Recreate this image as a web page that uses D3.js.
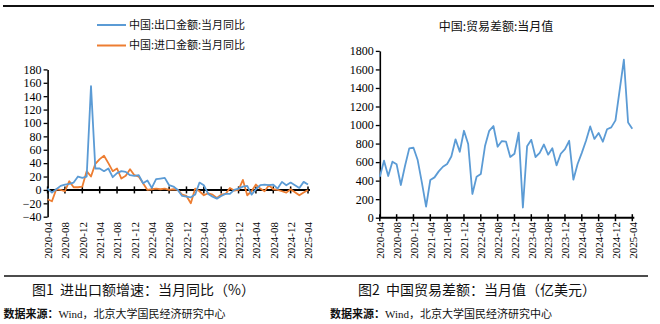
<!DOCTYPE html>
<html><head><meta charset="utf-8">
<script src="https://cdn.jsdelivr.net/npm/d3@7"></script>
<style>
html,body{margin:0;padding:0;background:#fff;}
svg{display:block;}
</style>
</head><body>
<svg id="c" width="660" height="324"></svg>
<script>
// ---------- data ----------
const months = d3.timeMonth.range(new Date(2020,3,1), new Date(2025,4,1)).map(d3.timeFormat("%Y-%m"));
const tickMonths = ["2020-04","2020-08","2020-12","2021-04","2021-08","2021-12","2022-04","2022-08","2022-12","2023-04","2023-08","2023-12","2024-04","2024-08","2024-12","2025-04"];
const exportYoY = [2,-4,1,6,8,9,11,20,18,
  20,155,32,32,28,32,19,25,28,27,22,21,
  22,10,14,3,16,17,18,7,5,0,-9,-10,
  -11,-7,11,7,-6,-10,-13,-9,-6,-6,0,2,
  5,6,-7,1,7,8,7,8,2,12,7,11,
  null,3,12,8];
const importYoY = [-14,-17,1,0,-2,13,4,4,5,
  28,20,39,46,51,40,28,32,17,21,31,22,
  20,10,0,1,2,1,2,0,1,0,-7,-9,
  -20,2,-2,-8,-5,-7,-12,-7,-6,3,-1,0,
  15,-8,-2,8,2,-2,7,1,0,-2,-4,1,
  null,-8,-4,0];
const tradeBalance = [442,615,450,604,576,353,560,748,755,
  622,378,119,407,435,500,550,580,660,846,712,938,
  795,256,442,471,773,938,989,766,827,820,655,690,
  917,110,770,840,655,700,790,680,750,565,690,740,
  830,410,580,700,830,985,850,915,820,955,975,1050,
  null,1705,1027,961];
const leftTicks = [-40,-20,0,20,40,60,80,100,120,140,160,180];
const rightTicks = [0,200,400,600,800,1000,1200,1400,1600,1800];
const seriesNames = ["中国:出口金额:当月同比","中国:进口金额:当月同比"];
const rightTitle = "中国:贸易差额:当月值";
const captions = ["图1\u00a0\u00a0进出口额增速：当月同比（%）","图2\u00a0\u00a0中国贸易差额：当月值（亿美元）"];

// ---------- style ----------
const BLUE = "#5B9BD5", ORANGE = "#ED7D31";
const SERIF = "'Liberation Serif','Times New Roman',serif";
const CJK = "'Noto Sans CJK SC','Noto Sans',sans-serif";

const svg = d3.select("#c");
svg.append("rect").attr("width",660).attr("height",324).attr("fill","#fff");

// top & bottom rules
svg.append("line").attr("x1",3).attr("x2",654).attr("y1",6).attr("y2",6).attr("stroke","#111").attr("stroke-width",2);
svg.append("line").attr("x1",4).attr("x2",648).attr("y1",276).attr("y2",276).attr("stroke","#111").attr("stroke-width",1.6);

function drawChart(opt){
  const g = svg.append("g");
  const x = d3.scalePoint().domain(months).range([opt.x0, opt.x1]);
  const y = d3.scaleLinear().domain(opt.yDomain).range([opt.yBottom, opt.yTop]);
  // y axis
  const ya = g.append("g").attr("transform",`translate(${opt.x0},0)`)
    .call(d3.axisLeft(y).tickValues(opt.yTicks).tickSize(4).tickSizeOuter(0).tickFormat(d3.format("d")));
  ya.select(".domain").attr("stroke","#000").attr("stroke-width",1.6);
  ya.selectAll(".tick line").attr("stroke","#000").attr("stroke-width",1.3);
  ya.selectAll(".tick text").attr("font-family",SERIF).attr("font-size",12).attr("fill","#000").attr("x",-6);
  // x axis line at zero
  const y0 = y(0);
  g.append("line").attr("x1",opt.x0).attr("x2",opt.x1+2).attr("y1",y0).attr("y2",y0)
    .attr("stroke","#000").attr("stroke-width",2);
  g.selectAll("line.xt").data(tickMonths).join("line").attr("class","xt")
    .attr("x1",d=>x(d)).attr("x2",d=>x(d)).attr("y1",y0-3.5).attr("y2",y0+3.5)
    .attr("stroke","#000").attr("stroke-width",1.5);
  g.selectAll("text.xl").data(tickMonths).join("text").attr("class","xl")
    .attr("transform",d=>`translate(${x(d)+0.5},${opt.labelTop}) rotate(-90)`)
    .attr("text-anchor","end").attr("dy","0.35em")
    .attr("font-family",SERIF).attr("font-size",11).attr("fill","#000").text(d=>d);
  // lines
  const line = d3.line().x(d=>x(d.m)).y(d=>y(d.v));
  opt.series.forEach(s=>{
    const pts = months.map((m,i)=>({m, v:s.values[i]})).filter(d=>d.v!==null);
    g.append("path").datum(pts).attr("d",line).attr("fill","none")
      .attr("stroke",s.color).attr("stroke-width",1.8).attr("stroke-linejoin","round");
  });
  return {x,y};
}

drawChart({x0:47.6, x1:308, yDomain:[-40,180], yBottom:216.7, yTop:69.4, yTicks:leftTicks,
  labelTop:222, series:[{values:importYoY,color:ORANGE},{values:exportYoY,color:BLUE}]});
drawChart({x0:379.8, x1:632.3, yDomain:[0,1800], yBottom:217.7, yTop:50.9, yTicks:rightTicks,
  labelTop:222, series:[{values:tradeBalance,color:BLUE}]});

// legend (left)
const legend = svg.append("g");
[BLUE, ORANGE].forEach((c,i)=>{
  const yy = 25 + i*20.5;
  legend.append("line").attr("x1",97).attr("x2",126).attr("y1",yy).attr("y2",yy).attr("stroke",c).attr("stroke-width",2);
  legend.append("text").attr("x",129).attr("y",yy).attr("dy","0.35em")
    .attr("font-family",CJK).attr("font-size",11).attr("fill","#111").text(seriesNames[i]);
});
// right title
svg.append("text").attr("x",496).attr("y",27).attr("dy","0.35em").attr("text-anchor","middle")
  .attr("font-family",CJK).attr("font-size",12).attr("fill","#111").text(rightTitle);

// captions
[[32,captions[0]],[358,captions[1]]].forEach(([xx,t])=>{
  svg.append("text").attr("x",xx).attr("y",295).attr("font-family",CJK).attr("font-size",14)
    .attr("fill","#111").text(t);
});
[3.5,330].forEach(xx=>{
  const t = svg.append("text").attr("x",xx).attr("y",318).attr("font-size",11).attr("fill","#111");
  t.append("tspan").attr("font-family",CJK).attr("font-weight","bold").text("数据来源：");
  t.append("tspan").attr("font-family",SERIF).text("Wind");
  t.append("tspan").attr("font-family",CJK).text("，北京大学国民经济研究中心");
});
</script>
</body></html>
